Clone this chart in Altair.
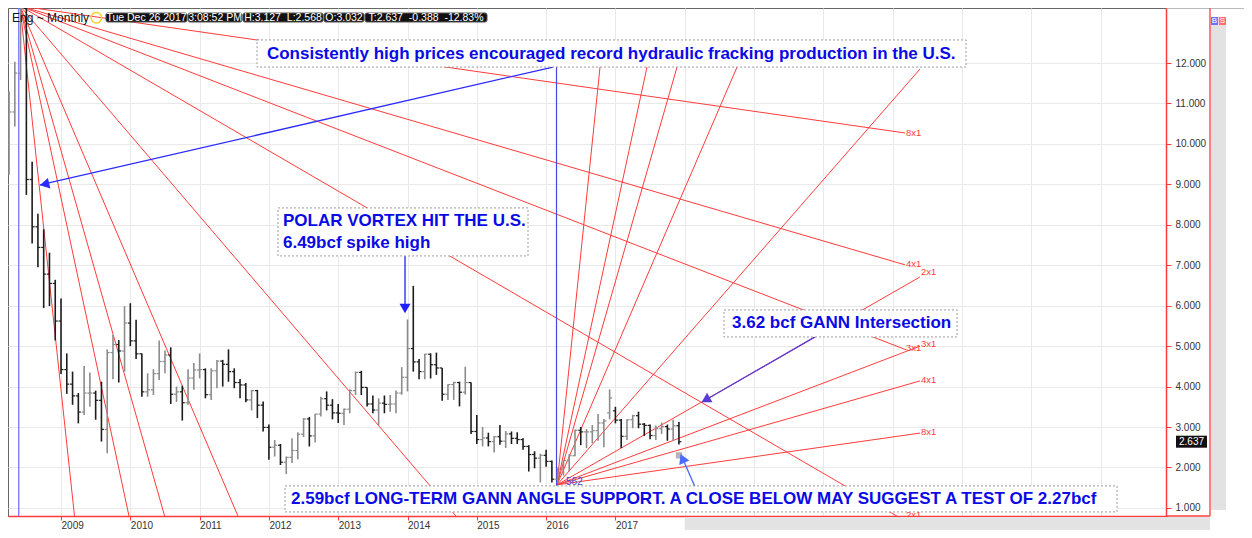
import altair as alt
import pandas as pd

# ---------------- data ----------------
months = [
    "2008-04", "2008-05", "2008-06", "2008-07", "2008-08", "2008-09", "2008-10", "2008-11", "2008-12",
    "2009-01", "2009-02", "2009-03", "2009-04", "2009-05", "2009-06", "2009-07", "2009-08", "2009-09", "2009-10", "2009-11", "2009-12",
    "2010-01", "2010-02", "2010-03", "2010-04", "2010-05", "2010-06", "2010-07", "2010-08", "2010-09", "2010-10", "2010-11", "2010-12",
    "2011-01", "2011-02", "2011-03", "2011-04", "2011-05", "2011-06", "2011-07", "2011-08", "2011-09", "2011-10", "2011-11", "2011-12",
    "2012-01", "2012-02", "2012-03", "2012-04", "2012-05", "2012-06", "2012-07", "2012-08", "2012-09", "2012-10", "2012-11", "2012-12",
    "2013-01", "2013-02", "2013-03", "2013-04", "2013-05", "2013-06", "2013-07", "2013-08", "2013-09", "2013-10", "2013-11", "2013-12",
    "2014-01", "2014-02", "2014-03", "2014-04", "2014-05", "2014-06", "2014-07", "2014-08", "2014-09", "2014-10", "2014-11", "2014-12",
    "2015-01", "2015-02", "2015-03", "2015-04", "2015-05", "2015-06", "2015-07", "2015-08", "2015-09", "2015-10", "2015-11", "2015-12",
    "2016-01", "2016-02", "2016-03", "2016-04", "2016-05", "2016-06", "2016-07", "2016-08", "2016-09", "2016-10", "2016-11", "2016-12",
    "2017-01", "2017-02", "2017-03", "2017-04", "2017-05", "2017-06", "2017-07", "2017-08", "2017-09", "2017-10", "2017-11", "2017-12",
]
opens = [
    10.10, 10.79, 11.75, 13.35, 9.12, 7.95, 7.44, 6.78, 6.55,
    5.62, 4.42, 4.06, 3.77, 3.37, 3.84, 3.84, 3.66, 2.94, 4.84, 5.04, 4.88,
    5.57, 5.13, 4.81, 3.87, 3.92, 4.32, 4.62, 4.78, 3.81, 3.87, 3.60, 4.21,
    4.41, 4.42, 3.80, 4.39, 4.63, 4.55, 4.37, 4.10, 4.04, 3.67, 3.90, 3.54,
    2.99, 2.50, 2.55, 2.13, 2.25, 2.42, 2.82, 3.20, 2.78, 3.32, 3.70, 3.54,
    3.35, 3.34, 3.44, 3.90, 4.35, 3.98, 3.57, 3.42, 3.59, 3.56, 3.57, 3.84,
    4.23, 4.94, 4.61, 4.37, 4.80, 4.54, 4.46, 3.81, 4.05, 4.10, 3.86, 4.10,
    2.89, 2.69, 2.73, 2.64, 2.76, 2.65, 2.83, 2.72, 2.69, 2.52, 2.32, 2.23,
    2.30, 2.15, 1.71, 1.96, 2.17, 2.29, 2.92, 2.88, 2.88, 2.91, 3.10, 3.35,
    3.40, 3.17, 2.77, 3.18, 3.28, 3.07, 3.04, 2.79, 2.96, 3.01, 2.95, 3.032,
]
highs = [
    11.30, 12.03, 13.58, 13.69, 9.56, 8.27, 7.89, 7.31, 6.64,
    6.18, 4.82, 4.37, 3.84, 4.51, 4.35, 3.90, 4.12, 4.92, 5.28, 5.15, 5.99,
    6.06, 5.65, 4.82, 4.33, 4.43, 5.14, 4.89, 4.97, 4.00, 4.02, 4.43, 4.58,
    4.82, 4.45, 4.45, 4.66, 4.66, 4.92, 4.45, 4.19, 4.09, 3.92, 3.92, 3.63,
    3.06, 2.68, 2.58, 2.27, 2.72, 2.87, 3.22, 3.25, 3.32, 3.75, 3.88, 3.69,
    3.57, 3.46, 3.93, 4.37, 4.39, 3.98, 3.78, 3.71, 3.78, 3.79, 3.90, 4.48,
    5.66, 6.49, 4.68, 4.81, 4.82, 4.84, 4.46, 4.06, 4.12, 4.12, 4.49, 4.10,
    3.30, 3.00, 2.86, 2.78, 3.05, 2.90, 2.89, 2.87, 2.72, 2.55, 2.40, 2.34,
    2.44, 2.17, 2.00, 2.18, 2.33, 2.94, 3.00, 2.95, 3.05, 3.32, 3.20, 3.93,
    3.50, 3.20, 3.19, 3.30, 3.38, 3.10, 3.06, 3.04, 3.11, 3.06, 3.18, 3.127,
]
lows = [
    9.24, 10.43, 11.58, 8.74, 7.54, 6.95, 5.94, 5.99, 5.14,
    4.31, 3.82, 3.55, 3.09, 3.30, 3.50, 3.18, 2.64, 2.35, 4.18, 4.10, 4.37,
    5.00, 4.68, 3.75, 3.75, 3.79, 4.16, 4.33, 3.57, 3.62, 3.16, 3.55, 3.92,
    4.20, 3.71, 3.67, 3.96, 4.00, 4.12, 3.96, 3.71, 3.61, 3.41, 3.22, 2.89,
    2.19, 2.27, 2.06, 1.84, 2.11, 2.20, 2.75, 2.52, 2.62, 3.26, 3.41, 3.19,
    3.10, 3.05, 3.34, 3.79, 3.79, 3.51, 3.34, 3.05, 3.34, 3.38, 3.34, 3.80,
    3.88, 4.37, 4.18, 4.18, 4.20, 4.29, 3.65, 3.67, 3.67, 3.51, 3.80, 2.83,
    2.58, 2.52, 2.52, 2.37, 2.56, 2.48, 2.58, 2.58, 2.44, 1.90, 1.98, 1.63,
    2.02, 1.63, 1.61, 1.80, 1.90, 2.28, 2.55, 2.48, 2.60, 2.66, 2.50, 3.19,
    3.09, 2.48, 2.68, 2.97, 2.97, 2.78, 2.70, 2.68, 2.83, 2.66, 2.66, 2.568,
]
closes = [
    10.79, 11.75, 13.35, 9.12, 7.95, 7.44, 6.78, 6.55, 5.62,
    4.42, 4.06, 3.77, 3.37, 3.84, 3.84, 3.66, 2.94, 4.84, 5.04, 4.88, 5.57,
    5.13, 4.81, 3.87, 3.92, 4.32, 4.62, 4.78, 3.81, 3.87, 3.60, 4.21, 4.41,
    4.42, 3.80, 4.39, 4.63, 4.55, 4.37, 4.10, 4.04, 3.67, 3.90, 3.54, 2.99,
    2.50, 2.55, 2.13, 2.25, 2.42, 2.82, 3.20, 2.78, 3.32, 3.70, 3.54, 3.35,
    3.34, 3.44, 3.90, 4.35, 3.98, 3.57, 3.42, 3.59, 3.56, 3.57, 3.84, 4.23,
    4.94, 4.61, 4.37, 4.80, 4.54, 4.46, 3.81, 4.05, 4.10, 3.86, 4.10, 2.89,
    2.69, 2.73, 2.64, 2.76, 2.65, 2.83, 2.72, 2.69, 2.52, 2.32, 2.23, 2.30,
    2.15, 1.71, 1.96, 2.17, 2.29, 2.92, 2.88, 2.88, 2.91, 3.10, 3.15, 3.72,
    3.17, 2.77, 3.18, 3.28, 3.07, 3.04, 2.79, 2.96, 3.01, 2.95, 3.03, 2.637,
]

year_ticks = list(range(2009, 2025))
price_ticks = list(range(1, 13))

# Gann fan from the 2008 top (x in years, y in price)
top_fan_origin = (2008.408, 13.41)
top_fan_end_x = [2009.202, 2009.996, 2010.515, 2011.583, 2014.758, 2021.179, 2021.193, 2021.179, 2021.179]
top_fan_end_y = [0.68, 0.68, 0.68, 0.68, 0.68, 0.68, 4.91, 7.01, 10.27]
top_fan_labels = ["2x1", "3x1", "4x1", "8x1"]
top_fan_label_x = [2021.193, 2021.193, 2021.193, 2021.193]
top_fan_label_y = [0.83, 4.955, 7.03, 10.27]

# Gann fan from the 2016 low
bot_fan_origin = (2016.157, 1.57)
bot_fan_end_x = [2016.778, 2017.456, 2017.889, 2018.755, 2021.395, 2021.395, 2021.395, 2021.395, 2021.395]
bot_fan_end_y = [11.90, 11.90, 11.90, 11.90, 11.85, 6.71, 5.00, 4.14, 2.85]
bot_fan_labels = ["2x1", "3x1", "4x1", "8x1"]
bot_fan_label_x = [2021.41, 2021.41, 2021.41, 2021.41]
bot_fan_label_y = [6.834, 5.054, 4.164, 2.879]

# annotations (years / price)
note_texts = [
    "Consistently high prices encouraged record hydraulic fracking production in the U.S.",
    "POLAR VORTEX HIT THE U.S.",
    "6.49bcf spike high",
    "3.62 bcf GANN Intersection",
    "2.59bcf LONG-TERM GANN ANGLE SUPPORT. A CLOSE BELOW MAY SUGGEST A TEST OF 2.27bcf",
]
note_x = [2016.94, 2012.203, 2012.203, 2018.683, 2012.319]
note_y = [12.235, 8.095, 7.551, 5.56, 1.222]
note_align = ["center", "left", "left", "left", "left"]

box_x1 = [2011.828, 2012.131, 2018.567, 2012.232]
box_x2 = [2022.059, 2015.739, 2021.929, 2024.238]
box_y1 = [12.57, 8.417, 5.895, 1.544]
box_y2 = [11.90, 7.230, 5.227, 0.901]

arrow_x1 = [2016.100, 2013.964, 2019.880, 2018.149]
arrow_y1 = [11.90, 7.23, 5.23, 1.52]
arrow_x2 = [2008.697, 2013.964, 2018.250, 2017.947]
arrow_y2 = [8.985, 5.85, 3.62, 2.31]
arrow_head_x = [2008.784, 2013.964, 2018.322, 2017.976]
arrow_head_y = [9.01, 5.97, 3.69, 2.19]
arrow_head_angle = [257, 180, 240, 336]
arrow_color = ["#2b2bff", "#1f1fff", "#5a3ad6", "#4d6dff"]

header_labels = ["Tue Dec 26 2017", "3:08:52 PM", "H:3.127\u00a0\u00a0L:2.568", "O:3.032",
                 "T:2.637\u00a0\u00a0-0.388\u00a0\u00a0-12.83%"]
header_x1 = [2009.649, 2010.833, 2011.626, 2012.795, 2013.387]
header_x2 = [2010.818, 2011.612, 2012.781, 2013.372, 2015.147]
last_price = 2.637

# ---------------- frames ----------------
t = [int(m[:4]) + (int(m[5:]) - 1) / 12 for m in months]
ohlc = pd.DataFrame({"t": t, "o": opens, "h": highs, "l": lows, "c": closes})
ohlc["dir"] = ["up" if c >= o else "dn" for o, c in zip(opens, closes)]

top_fan = pd.DataFrame({"x": top_fan_origin[0], "y": top_fan_origin[1],
                        "x2": top_fan_end_x, "y2": top_fan_end_y})
bot_fan = pd.DataFrame({"x": bot_fan_origin[0], "y": bot_fan_origin[1],
                        "x2": bot_fan_end_x, "y2": bot_fan_end_y})
fan_lab = pd.DataFrame({"x": top_fan_label_x + bot_fan_label_x,
                        "y": top_fan_label_y + bot_fan_label_y,
                        "txt": top_fan_labels + bot_fan_labels})
notes = pd.DataFrame({"x": note_x, "y": note_y, "txt": note_texts, "al": note_align})
boxes = pd.DataFrame({"x": box_x1, "x2": box_x2, "y": box_y1, "y2": box_y2})
arrows = pd.DataFrame({"x": arrow_x1, "y": arrow_y1, "x2": arrow_x2, "y2": arrow_y2,
                       "hx": arrow_head_x, "hy": arrow_head_y, "a": arrow_head_angle,
                       "col": arrow_color})
header = pd.DataFrame({"x": header_x1, "x2": header_x2, "txt": header_labels})
header["xm"] = [(a + b) / 2 for a, b in zip(header_x1, header_x2)]

# ---------------- scales / axes ----------------
RED = "#ff3b3b"
H = 508
xs = alt.Scale(domain=[2008.235, 2024.945], nice=False, zero=False)
ys = alt.Scale(domain=[0.80, 13.36], nice=False, zero=False)
xax = alt.Axis(values=year_ticks, format="d", labelAlign="left", labelBaseline="top",
               labelPadding=0, tickSize=4, tickColor=RED, domainColor=RED, domainWidth=1.5,
               grid=True, gridColor="#e9e9e9", labelFont="Liberation Sans", labelFontSize=10,
               labelColor="#333333", title=None, labelFlush=False, labelOverlap=False)
yax = alt.Axis(orient="right", values=price_ticks, format=".3f", labelAlign="left",
               labelPadding=4, tickSize=5, tickColor=RED, domainColor=RED, domainWidth=1.5,
               grid=True, gridColor="#e9e9e9", labelFont="Liberation Sans", labelFontSize=10,
               labelColor="#333333", title=None, labelFlush=False, labelOverlap=False)


def X(f):
    return alt.X(f, type="quantitative", scale=xs, axis=xax)


def Y(f):
    return alt.Y(f, type="quantitative", scale=ys, axis=yax)


def T(f):
    return alt.Text(f, type="nominal")


bar_color = alt.Color("dir:N", scale=alt.Scale(domain=["up", "dn"], range=["#8c8c8c", "#1c1c1c"]),
                      legend=None)

layers = []

# future shading under the x axis
layers.append(alt.Chart(pd.DataFrame({"v": [2018]})).mark_rect(color="#e3e3e3", clip=False).encode(
    x=X("v"), x2=alt.value(1202), y=alt.value(H + 1), y2=alt.value(522)))

# Gann fans
for fan in (top_fan, bot_fan):
    layers.append(alt.Chart(fan).mark_rule(color=RED, strokeWidth=1, clip=True).encode(
        x=X("x"), y=Y("y"), x2="x2", y2="y2"))

# vertical blue lines
layers.append(alt.Chart(pd.DataFrame({"x": [2008.39], "y": [13.36], "y2": [0.80]})).mark_rule(
    color="#7575ff", strokeWidth=1.3).encode(x=X("x"), y=Y("y"), y2="y2"))
layers.append(alt.Chart(pd.DataFrame({"x": [2016.15], "y": [11.90], "y2": [1.55]})).mark_rule(
    color="#4646e6", strokeWidth=1.2).encode(x=X("x"), y=Y("y"), y2="y2"))

# OHLC bars
base = alt.Chart(ohlc)
layers.append(base.mark_rule(strokeWidth=1.6).encode(x=X("t"), y=Y("l"), y2="h", color=bar_color))
layers.append(base.mark_rule(strokeWidth=1.2, xOffset=-2.5, x2Offset=0).encode(
    x=X("t"), x2="t", y=Y("o"), color=bar_color))
layers.append(base.mark_rule(strokeWidth=1.2, xOffset=0, x2Offset=2.5).encode(
    x=X("t"), x2="t", y=Y("c"), color=bar_color))

# small grey marker under the last bar
layers.append(alt.Chart(pd.DataFrame({"x": [2017.917], "y": [2.30]})).mark_square(
    size=40, color="#b5b5b5", opacity=1).encode(x=X("x"), y=Y("y")))
layers.append(alt.Chart(pd.DataFrame({"x": [2016.287], "y": [1.643], "txt": ["562"]})).mark_text(
    align="left", baseline="middle", font="Liberation Sans", fontSize=10, color="#4a4ad0").encode(
    x=X("x"), y=Y("y"), text=T("txt")))

# arrows
layers.append(alt.Chart(arrows).mark_rule(strokeWidth=1.3).encode(
    x=X("x"), y=Y("y"), x2="x2", y2="y2", color=alt.Color("col:N", scale=None)))
layers.append(alt.Chart(arrows).mark_point(shape="triangle", filled=True, size=120, opacity=1).encode(
    x=X("hx"), y=Y("hy"), angle=alt.Angle("a:Q", scale=None), color=alt.Color("col:N", scale=None)))

# annotation boxes + text
layers.append(alt.Chart(boxes).mark_rect(fill="white", stroke="#9a9a9a", strokeWidth=1,
                                         strokeDash=[2, 2]).encode(
    x=X("x"), x2="x2", y=Y("y"), y2="y2"))
for al in ("center", "left"):
    layers.append(alt.Chart(notes[notes["al"] == al]).mark_text(
        align=al, baseline="middle", font="Liberation Sans", fontWeight="bold", fontSize=17,
        color="#0a0ae6").encode(x=X("x"), y=Y("y"), text=T("txt")))

# fan labels
layers.append(alt.Chart(fan_lab).mark_text(align="left", baseline="middle", font="Liberation Sans",
                                            fontSize=9.5, color=RED, clip=True).encode(
    x=X("x"), y=Y("y"), text=T("txt")))

# header
layers.append(alt.Chart(pd.DataFrame({"x": [2008.293], "y": [13.12], "txt": ["Eng ~ Monthly"]})).mark_text(
    align="left", baseline="middle", font="Liberation Sans", fontSize=12, color="#111").encode(
    x=X("x"), y=Y("y"), text=T("txt")))
layers.append(alt.Chart(pd.DataFrame({"x": [2009.51], "y": [13.12]})).mark_point(
    shape="circle", filled=False, size=110, color="#f2d22a", strokeWidth=1.5, opacity=1).encode(
    x=X("x"), y=Y("y")))
layers.append(alt.Chart(header).mark_rect(fill="#111111", stroke="#555555", cornerRadius=2).encode(
    x=X("x"), x2="x2", y=alt.value(5), y2=alt.value(14)))
layers.append(alt.Chart(header).mark_text(align="center", baseline="middle", font="Liberation Sans",
                                          fontSize=10.5, color="white").encode(
    x=X("xm"), y=alt.value(9.5), text=T("txt")))

# right-hand chrome
lp = pd.DataFrame({"p": [last_price], "txt": ["2.637"]})
layers.append(alt.Chart(lp).mark_rect(fill="#111111", yOffset=-6, y2Offset=6, clip=False).encode(
    x=alt.value(1168), x2=alt.value(1199), y=Y("p"), y2="p"))
layers.append(alt.Chart(lp).mark_text(align="center", baseline="middle", font="Liberation Sans",
                                      fontSize=10, color="white", clip=False).encode(
    x=alt.value(1183.5), y=Y("p"), text=T("txt")))
one = pd.DataFrame({"a": [1]})
layers.append(alt.Chart(one).mark_rule(color=RED, strokeWidth=1.3, clip=False).encode(
    x=alt.value(1202), y=alt.value(0), y2=alt.value(H)))
layers.append(alt.Chart(one).mark_rule(color=RED, strokeWidth=1.5, clip=False).encode(
    x=alt.value(1158), x2=alt.value(1202), y=alt.value(H)))
layers.append(alt.Chart(one).mark_rule(color="#777", strokeWidth=1, clip=False).encode(
    x=alt.value(1158), x2=alt.value(1236), y=alt.value(0)))
layers.append(alt.Chart(one).mark_rect(fill="#e2e2e2", clip=False).encode(
    x=alt.value(1203), x2=alt.value(1218), y=alt.value(9), y2=alt.value(502)))
bs = pd.DataFrame({"x": [1203, 1211], "x2": [1210, 1218], "xm": [1206.5, 1214.5],
                   "txt": ["B", "S"], "col": ["#7272ff", "#ff7070"]})
layers.append(alt.Chart(bs).mark_rect(clip=False).encode(
    x=alt.X("x:Q", scale=None), x2="x2", y=alt.value(9), y2=alt.value(17),
    fill=alt.Fill("col:N", scale=None)))
layers.append(alt.Chart(bs).mark_text(font="Liberation Sans", fontSize=8, color="white",
                                      baseline="middle", clip=False).encode(
    x=alt.X("xm:Q", scale=None), y=alt.value(13), text=T("txt")))

chart = alt.layer(*layers).properties(
    width=1158, height=H,
    padding={"left": 0, "top": 0, "right": 78, "bottom": 522 - H},
    autosize=alt.AutoSizeParams(type="none"),
).configure_view(stroke="#666666", strokeWidth=1)

chart.save("out.html", embed_options={"renderer": "svg", "actions": False})
